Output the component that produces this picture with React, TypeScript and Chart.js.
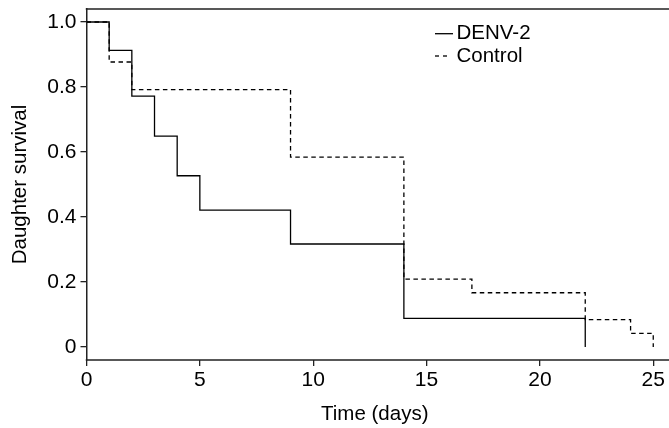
import React, { useEffect, useRef } from "react";
import { Chart, registerables } from "chart.js";

Chart.register(...registerables);

// ---- data ----
const denvDays = [0, 1, 2, 3, 4, 5, 9, 14, 22];
const denvSurvival = [1.0, 0.913, 0.772, 0.649, 0.527, 0.421, 0.317, 0.088, 0];
const controlDays = [0, 1, 2, 9, 14, 17, 22, 24, 25];
const controlSurvival = [1.0, 0.877, 0.792, 0.584, 0.209, 0.167, 0.084, 0.042, 0];
const xTicks = [0, 5, 10, 15, 20, 25];
const yTicks = [0, 0.2, 0.4, 0.6, 0.8, 1.0];
const seriesLabels = ["DENV-2", "Control"];
const xTitle = "Time (days)";
const yTitle = "Daughter survival";

const FONT = "'Liberation Sans', Arial, Helvetica, sans-serif";
const AXIS = "#222";

const framePlugin = {
  id: "frameAndLegend",
  afterDraw(chart: any) {
    const { ctx, chartArea } = chart;
    ctx.save();
    // top and bottom frame lines
    ctx.strokeStyle = AXIS;
    ctx.lineWidth = 1.5;
    ctx.setLineDash([]);
    ctx.beginPath();
    ctx.moveTo(chartArea.left - 0.75, chartArea.top);
    ctx.lineTo(chart.width, chartArea.top);
    ctx.moveTo(chartArea.left - 0.75, chartArea.bottom);
    ctx.lineTo(chart.width, chartArea.bottom);
    ctx.stroke();

    // legend
    const lx = 435;
    const ly = [33.7, 56];
    ctx.strokeStyle = "#000";
    ctx.lineWidth = 1.3;
    ctx.beginPath();
    ctx.moveTo(lx, ly[0]);
    ctx.lineTo(lx + 18, ly[0]);
    ctx.stroke();
    ctx.setLineDash([4, 4]);
    ctx.beginPath();
    ctx.moveTo(lx, ly[1]);
    ctx.lineTo(lx + 12, ly[1]);
    ctx.stroke();
    ctx.setLineDash([]);
    ctx.fillStyle = "#000";
    ctx.font = `20.5px ${FONT}`;
    ctx.textBaseline = "middle";
    ctx.textAlign = "left";
    ctx.fillText(seriesLabels[0], lx + 21.5, ly[0]);
    ctx.fillText(seriesLabels[1], lx + 21.5, ly[1]);
    ctx.restore();
  },
};

export default function App() {
  const ref = useRef<HTMLCanvasElement | null>(null);

  useEffect(() => {
    if (!ref.current) return;
    const chart = new Chart(ref.current, {
      type: "line",
      data: {
        datasets: [
          {
            label: seriesLabels[1],
            data: controlDays.map((d, i) => ({ x: d, y: controlSurvival[i] })),
            stepped: "before",
            borderColor: "#000",
            borderWidth: 1.3,
            borderDash: [4.5, 3.5],
            pointRadius: 0,
            fill: false,
          },
          {
            label: seriesLabels[0],
            data: denvDays.map((d, i) => ({ x: d, y: denvSurvival[i] })),
            stepped: "before",
            borderColor: "#000",
            borderWidth: 1.3,
            pointRadius: 0,
            fill: false,
          },
        ],
      },
      options: {
        animation: false,
        responsive: true,
        maintainAspectRatio: false,
        layout: { padding: { top: 9, right: 6, left: 0, bottom: 0 } },
        plugins: { legend: { display: false }, tooltip: { enabled: false } },
        scales: {
          x: {
            type: "linear",
            min: 0,
            max: 25.43,
            afterBuildTicks: (s: any) => {
              s.ticks = xTicks.map((v) => ({ value: v }));
            },
            afterFit: (s: any) => {
              s.height = 68;
              s.paddingLeft = 0;
              s.paddingRight = 0;
            },
            grid: {
              drawOnChartArea: false,
              drawTicks: true,
              tickLength: 6,
              color: AXIS,
              lineWidth: 1.3,
            },
            border: { display: false },
            ticks: {
              color: "#000",
              font: { family: FONT, size: 21 },
              padding: 2,
              maxRotation: 0,
              callback: (v: any) => String(v),
            },
            title: {
              display: true,
              text: xTitle,
              color: "#000",
              font: { family: FONT, size: 20.5 },
              padding: { top: 0, bottom: 1 },
            },
          },
          y: {
            type: "linear",
            min: -0.04,
            max: 1.04,
            afterBuildTicks: (s: any) => {
              s.ticks = yTicks.map((v) => ({ value: v }));
            },
            afterFit: (s: any) => {
              s.width = 86.5;
              s.paddingTop = 0;
              s.paddingBottom = 0;
            },
            grid: {
              drawOnChartArea: false,
              drawTicks: true,
              tickLength: 6,
              color: AXIS,
              lineWidth: 1.3,
            },
            border: { display: true, color: AXIS, width: 1.5 },
            ticks: {
              color: "#000",
              font: { family: FONT, size: 21 },
              padding: 4,
              callback: (v: any) => (v === 0 ? "0" : Number(v).toFixed(1)),
            },
            title: {
              display: true,
              text: yTitle,
              color: "#000",
              font: { family: FONT, size: 20.5 },
              padding: { top: 8, bottom: 0 },
            },
          },
        },
      },
      plugins: [framePlugin],
    });
    return () => chart.destroy();
  }, []);

  return (
    <div
      style={{
        position: "fixed",
        left: 0,
        top: 0,
        width: 669,
        height: 428,
        background: "#fff",
      }}
    >
      <canvas ref={ref} style={{ display: "block" }} />
    </div>
  );
}
